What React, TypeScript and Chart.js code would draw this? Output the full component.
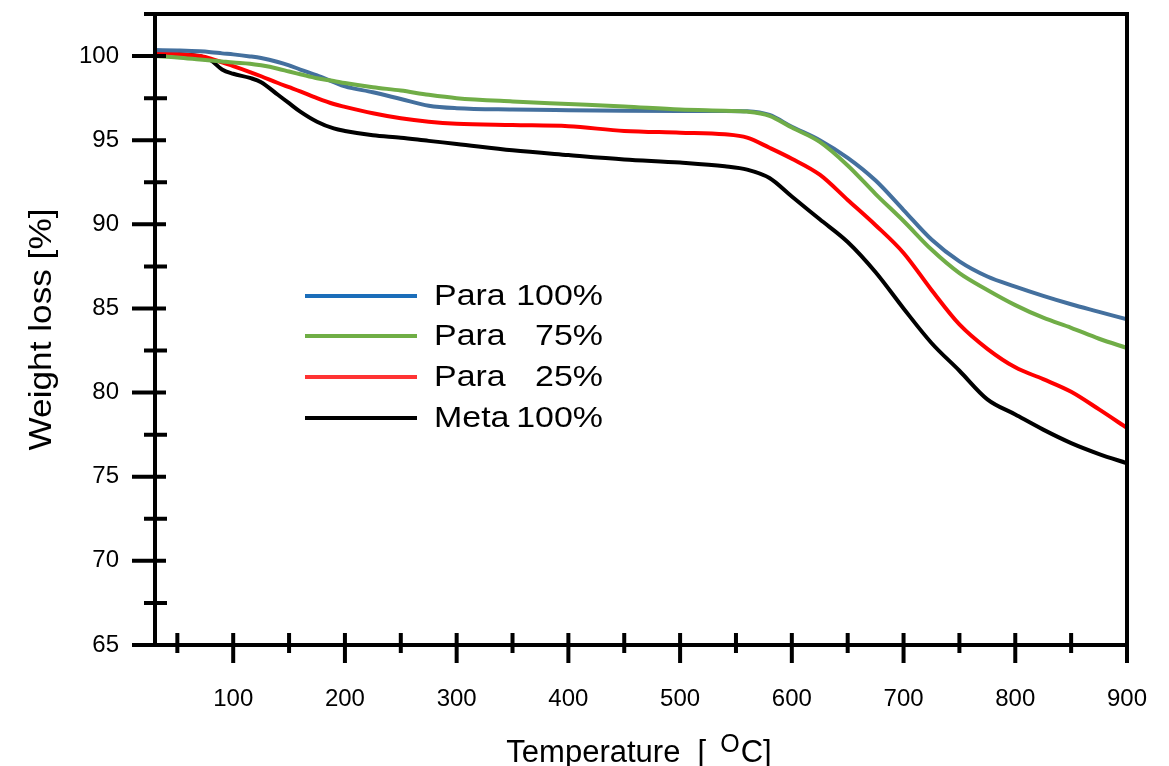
import React, { useEffect, useRef } from "react";
import { Chart, registerables } from "chart.js";

Chart.register(...registerables);

// Temperature points (°C) at which the curves were read
const temperatures = [
  30, 50, 70, 80, 90, 100, 115, 125, 140, 150, 160, 175, 190, 200, 225, 250, 275, 300,
  350, 400, 450, 500, 540, 560, 580, 600, 625, 650, 675, 700, 725, 750, 775, 800, 825,
  850, 875, 900,
];

// Weight loss [%]
const para100 = [
  100.36, 100.33, 100.28, 100.23, 100.16, 100.1, 99.98, 99.88, 99.65, 99.45, 99.2, 98.85,
  98.45, 98.2, 97.85, 97.45, 97.05, 96.9, 96.82, 96.78, 96.75, 96.74, 96.74, 96.72, 96.5,
  95.8, 95.0, 93.95, 92.6, 90.85, 89.1, 87.8, 86.9, 86.3, 85.75, 85.25, 84.8, 84.35,
];
const para75 = [
  100.0, 99.92, 99.8, 99.74, 99.68, 99.62, 99.55, 99.45, 99.25, 99.08, 98.92, 98.68,
  98.52, 98.4, 98.15, 97.95, 97.7, 97.5, 97.3, 97.15, 97.0, 96.82, 96.75, 96.7, 96.45,
  95.75, 94.9, 93.5, 91.8, 90.2, 88.5, 87.1, 86.1, 85.2, 84.45, 83.85, 83.2, 82.65,
];
const para25 = [
  100.2, 100.12, 100.0, 99.85, 99.62, 99.4, 99.05, 98.8, 98.4, 98.15, 97.9, 97.5, 97.15,
  96.98, 96.6, 96.3, 96.1, 95.98, 95.9, 95.83, 95.55, 95.45, 95.35, 95.15, 94.55, 93.9,
  92.95, 91.45, 89.95, 88.3, 86.1, 84.05, 82.6, 81.5, 80.8, 80.05, 79.0, 77.9,
];
const meta100 = [
  100.2, 100.12, 100.0, 99.75, 99.2, 98.95, 98.7, 98.45, 97.7, 97.2, 96.7, 96.1, 95.7,
  95.55, 95.3, 95.15, 94.96, 94.78, 94.4, 94.12, 93.86, 93.67, 93.45, 93.25, 92.75, 91.65,
  90.3, 88.95, 87.15, 85.0, 82.95, 81.3, 79.6, 78.7, 77.8, 77.0, 76.35, 75.8,
];

const seriesNames = ["Para", "Para", "Para", "Meta"];
const seriesPercents = ["100%", "75%", "25%", "100%"];
const lineColors = ["#44709E", "#70AD47", "#FF0000", "#000000"];
const legendColors = ["#1B6EBA", "#6FAE45", "#FF3333", "#000000"];

const xTickValues = [100, 200, 300, 400, 500, 600, 700, 800, 900];
const yTickValues = [65, 70, 75, 80, 85, 90, 95, 100];

const X_MIN = 30;
const X_MAX = 900;
const Y_MIN = 65;
const Y_MAX = 102.5;

const FONT = '"Liberation Sans", Arial, Helvetica, sans-serif';

export default function App() {
  const ref = useRef<HTMLCanvasElement>(null);

  useEffect(() => {
    const canvas = ref.current;
    if (!canvas) return;

    const series = [para100, para75, para25, meta100];
    const drawOrder = [1, 0, 2, 3];

    const axesPlugin = {
      id: "customAxes",
      afterDatasetsDraw(chart: any) {
        const { ctx, chartArea, scales } = chart;
        const { left, right, top, bottom } = chartArea;
        const x = scales.x;
        const y = scales.y;
        ctx.save();
        ctx.strokeStyle = "#000";
        ctx.lineWidth = 4;
        ctx.lineCap = "butt";
        ctx.beginPath();
        ctx.moveTo(left - 11, top);
        ctx.lineTo(right + 2, top);
        ctx.moveTo(left, top - 2);
        ctx.lineTo(left, bottom + 2);
        ctx.moveTo(left - 23, bottom);
        ctx.lineTo(right + 2, bottom);
        ctx.moveTo(right, top - 2);
        ctx.lineTo(right, bottom + 18);
        // y ticks
        for (let v = Y_MIN + 2.5; v < Y_MAX; v += 2.5) {
          const py = y.getPixelForValue(v);
          const major = Math.abs(v % 5) < 1e-6;
          if (major) {
            ctx.moveTo(left - 23, py);
            ctx.lineTo(left + 11, py);
          } else {
            ctx.moveTo(left - 11, py);
            ctx.lineTo(left + 12, py);
          }
        }
        // x ticks
        for (let v = 50; v < X_MAX; v += 50) {
          const px = x.getPixelForValue(v);
          const major = v % 100 === 0;
          ctx.moveTo(px, bottom - 12);
          ctx.lineTo(px, bottom + (major ? 18 : 8));
        }
        ctx.stroke();
        ctx.restore();
      },
    };

    const textPlugin = {
      id: "customText",
      afterDraw(chart: any) {
        const { ctx, chartArea } = chart;
        const { left, right, top, bottom } = chartArea;
        ctx.save();
        ctx.fillStyle = "#000";

        // Legend
        const rowY = [296, 336, 377, 418];
        const lx1 = 305;
        const lx2 = 417;
        const tx = 434;
        const tRight = 603;
        const sx = 1.17;
        ctx.font = `29px ${FONT}`;
        ctx.textBaseline = "alphabetic";
        for (let i = 0; i < 4; i++) {
          ctx.strokeStyle = legendColors[i];
          ctx.lineWidth = 4;
          ctx.beginPath();
          ctx.moveTo(lx1, rowY[i]);
          ctx.lineTo(lx2, rowY[i]);
          ctx.stroke();
          ctx.save();
          ctx.translate(tx, rowY[i] + 9);
          ctx.scale(sx, 1);
          ctx.textAlign = "left";
          ctx.fillText(seriesNames[i], 0, 0);
          ctx.restore();
          ctx.save();
          ctx.translate(tRight, rowY[i] + 9);
          ctx.scale(sx, 1);
          ctx.textAlign = "right";
          ctx.fillText(seriesPercents[i], 0, 0);
          ctx.restore();
        }

        // Y title
        ctx.save();
        ctx.translate(51, (top + bottom) / 2);
        ctx.rotate(-Math.PI / 2);
        ctx.scale(1.1, 1);
        ctx.font = `32px ${FONT}`;
        ctx.textAlign = "center";
        ctx.fillText("Weight loss [%]", 0, 0);
        ctx.restore();

        // X title with superscript
        const bigFont = `31px ${FONT}`;
        const smallFont = `25px ${FONT}`;
        const p1 = "Temperature  [";
        const p2 = "O";
        const p3 = "C]";
        ctx.font = bigFont;
        const w1 = ctx.measureText(p1).width;
        const w3 = ctx.measureText(p3).width;
        ctx.font = smallFont;
        const w2 = ctx.measureText(p2).width;
        const gapA = 14;
        const gapB = 1;
        const total = w1 + gapA + w2 + gapB + w3;
        let cx = (left + right) / 2 - 2 - total / 2;
        const base = 762;
        ctx.textAlign = "left";
        ctx.font = bigFont;
        ctx.fillText(p1, cx, base);
        cx += w1 + gapA;
        ctx.font = smallFont;
        ctx.fillText(p2, cx, base - 10);
        cx += w2 + gapB;
        ctx.font = bigFont;
        ctx.fillText(p3, cx, base);
        ctx.restore();
      },
    };

    const chart = new Chart(canvas, {
      type: "line",
      data: {
        datasets: series.map((vals, i) => ({
          label: `${seriesNames[i]} ${seriesPercents[i]}`,
          data: temperatures.map((t, k) => ({ x: t, y: vals[k] })),
          borderColor: lineColors[i],
          backgroundColor: lineColors[i],
          borderWidth: 4,
          pointRadius: 0,
          cubicInterpolationMode: "monotone" as const,
          fill: false,
          order: drawOrder[i],
        })),
      },
      options: {
        animation: false,
        responsive: false,
        maintainAspectRatio: false,
        layout: { padding: { left: 0, top: 14, right: 42, bottom: 0 } },
        plugins: {
          legend: { display: false },
          tooltip: { enabled: false },
          title: { display: false },
        },
        scales: {
          x: {
            type: "linear",
            min: X_MIN,
            max: X_MAX,
            grid: { display: false, drawTicks: false },
            border: { display: false },
            afterBuildTicks: (scale: any) => {
              scale.ticks = xTickValues.map((v) => ({ value: v }));
            },
            afterFit: (scale: any) => {
              scale.height = 121;
              scale.paddingLeft = 0;
              scale.paddingRight = 0;
            },
            ticks: {
              autoSkip: false,
              maxRotation: 0,
              padding: 40,
              color: "#000",
              font: { family: FONT, size: 24 },
              callback: (v: any) => String(v),
            },
          },
          y: {
            type: "linear",
            min: Y_MIN,
            max: Y_MAX,
            grid: { display: false, drawTicks: false },
            border: { display: false },
            afterBuildTicks: (scale: any) => {
              scale.ticks = yTickValues.map((v) => ({ value: v }));
            },
            afterFit: (scale: any) => {
              scale.width = 155;
              scale.paddingTop = 0;
              scale.paddingBottom = 0;
            },
            ticks: {
              autoSkip: false,
              padding: 36,
              color: "#000",
              font: { family: FONT, size: 24 },
              callback: (v: any) => String(v),
            },
          },
        },
      },
      plugins: [axesPlugin, textPlugin],
    });

    return () => chart.destroy();
  }, []);

  return (
    <div style={{ position: "absolute", left: 0, top: 0, width: 1169, height: 766, background: "#fff" }}>
      <canvas ref={ref} width={1169} height={766} style={{ display: "block" }} />
    </div>
  );
}
